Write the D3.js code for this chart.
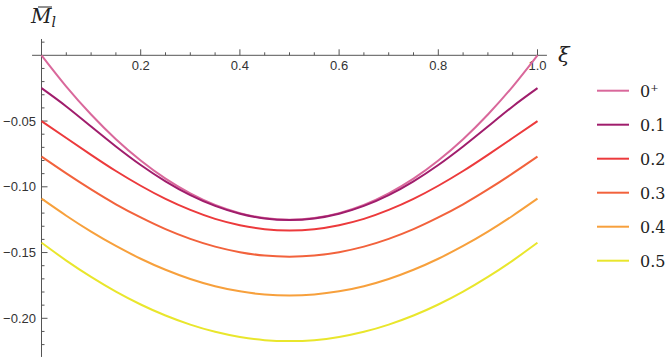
<!DOCTYPE html>
<html lang="en">
<head>
<meta charset="UTF-8">
<title>M_l curves</title>
<script src="https://d3js.org/d3.v7.min.js"></script>
<style>
  body { margin: 0; background: #fff; }
  .tick-label { font-family: "Liberation Sans", Arial, sans-serif; font-size: 13px; fill: #333; }
</style>
</head>
<body>
<svg width="665" height="359"></svg>
<script>
// sample positions along xi
var xi = [0, 0.05, 0.1, 0.15, 0.2, 0.25, 0.3, 0.35, 0.4, 0.45, 0.5,
          0.55, 0.6, 0.65, 0.7, 0.75, 0.8, 0.85, 0.9, 0.95, 1];

// values, one array per curve
var m0plus = [0, -0.0238, -0.045, -0.0638, -0.08, -0.0938, -0.105, -0.1138, -0.12, -0.1238, -0.125,
              -0.1238, -0.12, -0.1138, -0.105, -0.0938, -0.08, -0.0638, -0.045, -0.0238, 0];
var m01 = [-0.025, -0.0389, -0.0542, -0.0693, -0.0834, -0.0958, -0.1063, -0.1145, -0.1205, -0.1241, -0.1253,
           -0.1241, -0.1205, -0.1145, -0.1063, -0.0958, -0.0834, -0.0693, -0.0542, -0.0389, -0.025];
var m02 = [-0.05, -0.0629, -0.0757, -0.088, -0.0992, -0.1092, -0.1176, -0.1244, -0.1292, -0.1322, -0.1332,
           -0.1322, -0.1292, -0.1244, -0.1176, -0.1092, -0.0992, -0.088, -0.0757, -0.0629, -0.05];
var m03 = [-0.077, -0.0898, -0.102, -0.1133, -0.1233, -0.1322, -0.1396, -0.1455, -0.1497, -0.1523, -0.1531,
           -0.1523, -0.1497, -0.1455, -0.1396, -0.1322, -0.1233, -0.1133, -0.102, -0.0898, -0.077];
var m04 = [-0.109, -0.122, -0.1341, -0.145, -0.1547, -0.1631, -0.1701, -0.1756, -0.1795, -0.1819, -0.1827,
           -0.1819, -0.1795, -0.1756, -0.1701, -0.1631, -0.1547, -0.145, -0.1341, -0.122, -0.109];
var m05 = [-0.1425, -0.1561, -0.1685, -0.1797, -0.1895, -0.1979, -0.2048, -0.2103, -0.2142, -0.2166, -0.2173,
           -0.2166, -0.2142, -0.2103, -0.2048, -0.1979, -0.1895, -0.1797, -0.1685, -0.1561, -0.1425];

var labels = ["0", "0.1", "0.2", "0.3", "0.4", "0.5"];
var series = [m0plus, m01, m02, m03, m04, m05];
var colors = ["#d9689b", "#a01d6c", "#ec3a3c", "#f2623c", "#f7a03c", "#e9e62c"];

var xMajor = [0.2, 0.4, 0.6, 0.8, 1.0];
var yMajor = [-0.05, -0.10, -0.15, -0.20];

var serifFont = "DejaVu Serif";

var svg = d3.select("svg");

var x = d3.scaleLinear().domain([0, 1]).range([41.5, 537.5]);
var y = d3.scaleLinear().domain([0, -0.2]).range([55.3, 318.3]);

var axisColor = "#555";

// x axis (ticks pointing up)
svg.append("line")
    .attr("x1", x(-0.019)).attr("x2", x(1.019))
    .attr("y1", y(0)).attr("y2", y(0))
    .attr("stroke", axisColor).attr("stroke-width", 1);

var xMinor = d3.range(1, 21).map(function(i) { return i * 0.05; });
svg.append("g").selectAll("line")
    .data(xMinor)
    .enter().append("line")
    .attr("x1", function(d) { return x(d); })
    .attr("x2", function(d) { return x(d); })
    .attr("y1", y(0))
    .attr("y2", function(d) { return xMajor.some(function(m) { return Math.abs(m - d) < 1e-6; }) ? y(0) - 6 : y(0) - 3; })
    .attr("stroke", axisColor).attr("stroke-width", 1);

svg.append("g").selectAll("text")
    .data(xMajor)
    .enter().append("text")
    .attr("class", "tick-label")
    .attr("x", function(d) { return x(d); })
    .attr("y", y(0) + 15)
    .attr("text-anchor", "middle")
    .text(function(d) { return d3.format(".1f")(d); });

// y axis (ticks pointing right)
svg.append("line")
    .attr("x1", x(0)).attr("x2", x(0))
    .attr("y1", y(0.0124)).attr("y2", y(-0.2294))
    .attr("stroke", axisColor).attr("stroke-width", 1);

var yMinor = d3.range(-22, 2).filter(function(i) { return i !== 0; }).map(function(i) { return i * 0.01; });
svg.append("g").selectAll("line")
    .data(yMinor)
    .enter().append("line")
    .attr("y1", function(d) { return y(d); })
    .attr("y2", function(d) { return y(d); })
    .attr("x1", x(0))
    .attr("x2", function(d) { return yMajor.some(function(m) { return Math.abs(m - d) < 1e-6; }) ? x(0) + 6 : x(0) + 3; })
    .attr("stroke", axisColor).attr("stroke-width", 1);

svg.append("g").selectAll("text")
    .data(yMajor)
    .enter().append("text")
    .attr("class", "tick-label")
    .attr("x", 36)
    .attr("y", function(d) { return y(d); })
    .attr("dy", "0.35em")
    .attr("text-anchor", "end")
    .text(function(d) { return d3.format(".2f")(d).replace("-", "\u2212"); });

// axis titles
var mt = svg.append("text")
    .attr("font-family", serifFont).attr("fill", "#222")
    .attr("x", 31).attr("y", 23)
    .attr("font-size", 20).attr("font-style", "italic");
mt.append("tspan").text("M");
mt.append("tspan").attr("dy", 4).attr("font-size", 14).text("l");
svg.append("line")
    .attr("x1", 38).attr("x2", 52).attr("y1", 7).attr("y2", 7)
    .attr("stroke", "#222").attr("stroke-width", 1);

svg.append("text")
    .attr("font-family", serifFont).attr("fill", "#222")
    .attr("x", 558).attr("y", 62)
    .attr("font-size", 21).attr("font-style", "italic")
    .text("\u03BE");

// curves
var line = d3.line()
    .x(function(d) { return x(d[0]); })
    .y(function(d) { return y(d[1]); })
    .curve(d3.curveNatural);

svg.append("g").selectAll("path")
    .data(series)
    .enter().append("path")
    .attr("fill", "none")
    .attr("stroke", function(d, i) { return colors[i]; })
    .attr("stroke-width", 2)
    .attr("d", function(d) { return line(d.map(function(v, j) { return [xi[j], v]; })); });

// legend
var legend = svg.append("g");
labels.forEach(function(lab, i) {
    var ly = 90.7 + i * 34;
    legend.append("line")
        .attr("x1", 597).attr("x2", 629).attr("y1", ly).attr("y2", ly)
        .attr("stroke", colors[i]).attr("stroke-width", 2);
    var t = legend.append("text")
        .attr("font-family", serifFont).attr("fill", "#222")
        .attr("x", 640).attr("y", ly + 6)
        .attr("font-size", 16)
        .text(lab);
    if (i === 0) {
        t.append("tspan").attr("dy", -6).attr("font-size", 10).text("+");
    }
});
</script>
</body>
</html>
